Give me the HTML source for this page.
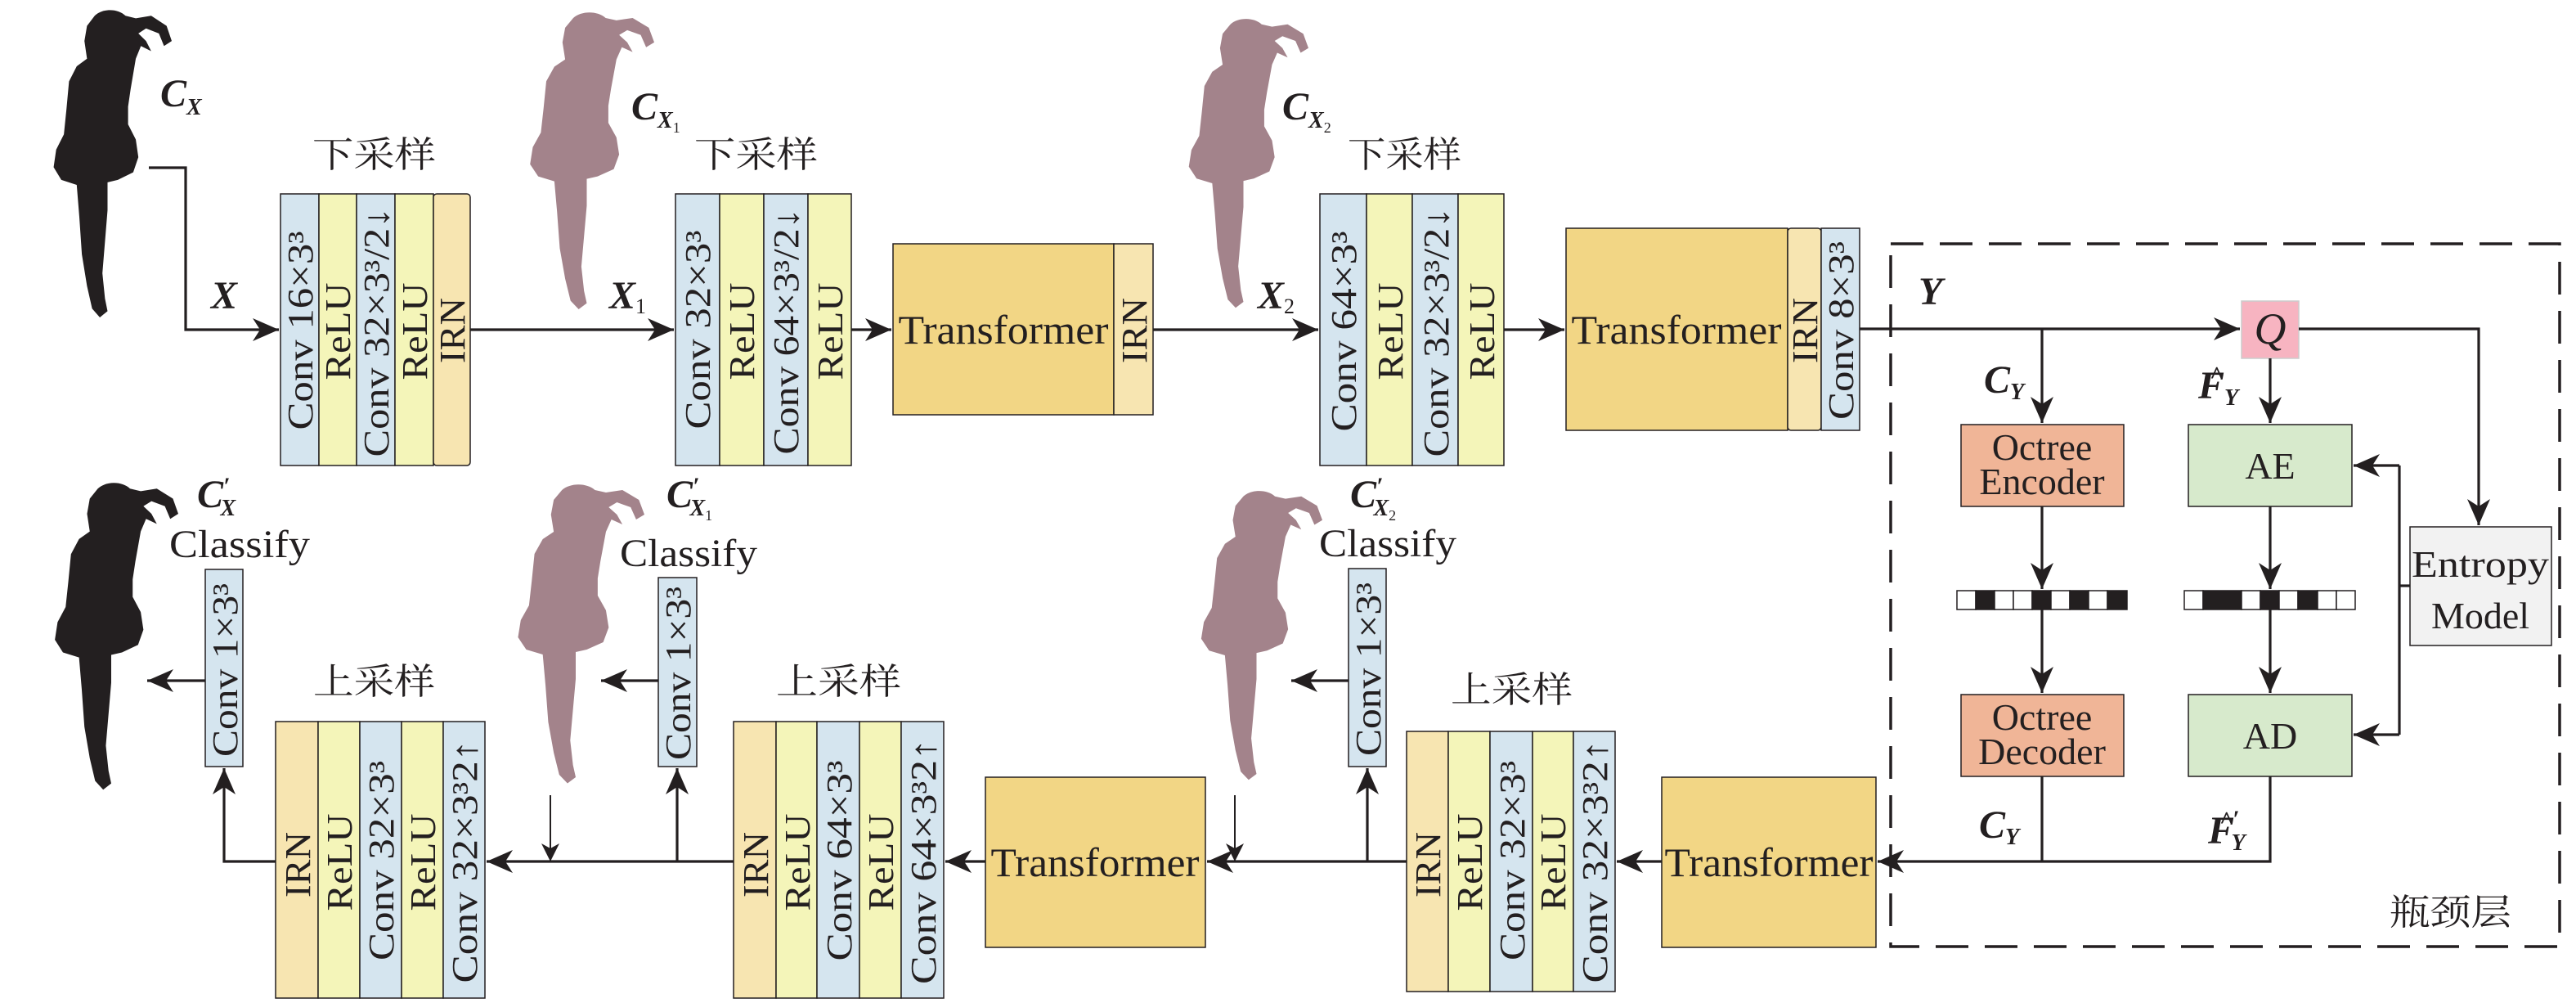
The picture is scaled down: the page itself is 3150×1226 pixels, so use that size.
<!DOCTYPE html>
<html><head><meta charset="utf-8"><style>
html,body{margin:0;padding:0;background:#fff;}
svg{display:block;}
text{font-family:"Liberation Serif","Times New Roman","Noto Serif CJK SC",serif;fill:#231f20;}
.cj{font-family:"Liberation Serif","Noto Serif CJK SC","Noto Sans CJK SC",serif;}
.m{font-style:italic;font-weight:bold;}
</style></head><body>
<svg width="3150" height="1226" viewBox="0 0 3150 1226" xmlns="http://www.w3.org/2000/svg" font-family="Liberation Serif, serif">
<defs>
<marker id="a" markerUnits="userSpaceOnUse" markerWidth="34" markerHeight="28" refX="32" refY="14" orient="auto">
<path d="M0,0 L32,14 L0,28 L9,14 Z" fill="#231f20"/></marker>
<marker id="s" markerUnits="userSpaceOnUse" markerWidth="24" markerHeight="22" refX="22" refY="11" orient="auto">
<path d="M0,0 L22,11 L0,22 L6,11 Z" fill="#231f20"/></marker>
<path id="sil" d="M40,6 C46,0 58,0 64,6 L72,8 L84,6 L96,14 L100,26 L94,30 L90,20 L80,16 L74,20 L80,26 L84,34 L76,30 L72,40 L70,52 L68,64 L66,78 L66,92 L72,104 L74,118 L70,130 L58,136 L50,138 L50,160 L48,185 L46,210 L48,230 L50,240 L44,245 L38,238 L34,220 L30,195 L28,165 L26,140 L14,136 L8,126 L10,112 L16,100 L18,80 L20,58 L26,46 L34,40 L32,26 L34,14 Z"/>
</defs>
<g stroke="none">
<use href="#sil" fill="#231f20" transform="translate(53,10) scale(1.57,1.543)"/>
<use href="#sil" fill="#a3838b" transform="translate(635,13) scale(1.65,1.49)"/>
<use href="#sil" fill="#a3838b" transform="translate(1441,21) scale(1.59,1.45)"/>
<use href="#sil" fill="#231f20" transform="translate(54,588) scale(1.64,1.54)"/>
<use href="#sil" fill="#a3838b" transform="translate(620,590) scale(1.68,1.50)"/>
<use href="#sil" fill="#a3838b" transform="translate(1456,598) scale(1.61,1.45)"/>
</g>

<g stroke="#231f20" stroke-width="1.5">
<rect x="343" y="237" width="47" height="332" fill="#d5e5ef"/>
<rect x="390" y="237" width="46" height="332" fill="#f4f5b9"/>
<rect x="436" y="237" width="47" height="332" fill="#d5e5ef"/>
<rect x="483" y="237" width="47" height="332" fill="#f4f5b9"/>
<rect x="530" y="237" width="45" height="332" rx="4" fill="#f7e5b1"/>
<rect x="826" y="237" width="54" height="332" fill="#d5e5ef"/>
<rect x="880" y="237" width="54" height="332" fill="#f4f5b9"/>
<rect x="934" y="237" width="54" height="332" fill="#d5e5ef"/>
<rect x="988" y="237" width="53" height="332" fill="#f4f5b9"/>
<rect x="1092" y="298" width="270" height="209" fill="#f2d685"/>
<rect x="1362" y="298" width="48" height="209" fill="#f7e5b1"/>
<rect x="1614" y="237" width="57" height="332" fill="#d5e5ef"/>
<rect x="1671" y="237" width="56" height="332" fill="#f4f5b9"/>
<rect x="1727" y="237" width="56" height="332" fill="#d5e5ef"/>
<rect x="1783" y="237" width="56" height="332" fill="#f4f5b9"/>
<rect x="1915" y="279" width="271" height="247" fill="#f2d685"/>
<rect x="2186" y="279" width="41" height="247" rx="4" fill="#f7e5b1"/>
<rect x="2227" y="279" width="47" height="247" fill="#d5e5ef"/>
<rect x="251" y="696" width="46" height="241" fill="#d5e5ef"/>
<rect x="805" y="706" width="47" height="231" fill="#d5e5ef"/>
<rect x="1649" y="695" width="46" height="242" fill="#d5e5ef"/>
<rect x="337" y="882" width="52" height="338" fill="#f7e5b1"/>
<rect x="389" y="882" width="51" height="338" fill="#f4f5b9"/>
<rect x="440" y="882" width="51" height="338" fill="#d5e5ef"/>
<rect x="491" y="882" width="51" height="338" fill="#f4f5b9"/>
<rect x="542" y="882" width="51" height="338" fill="#d5e5ef"/>
<rect x="897" y="882" width="52" height="338" fill="#f7e5b1"/>
<rect x="949" y="882" width="50" height="338" fill="#f4f5b9"/>
<rect x="999" y="882" width="52" height="338" fill="#d5e5ef"/>
<rect x="1051" y="882" width="51" height="338" fill="#f4f5b9"/>
<rect x="1102" y="882" width="52" height="338" fill="#d5e5ef"/>
<rect x="1205" y="950" width="269" height="208" fill="#f2d685"/>
<rect x="1720" y="894" width="51" height="318" fill="#f7e5b1"/>
<rect x="1771" y="894" width="51" height="318" fill="#f4f5b9"/>
<rect x="1822" y="894" width="52" height="318" fill="#d5e5ef"/>
<rect x="1874" y="894" width="50" height="318" fill="#f4f5b9"/>
<rect x="1924" y="894" width="51" height="318" fill="#d5e5ef"/>
<rect x="2032" y="950" width="262" height="208" fill="#f2d685"/>
<rect x="2741" y="368" width="70" height="70" fill="#f7b4c1" stroke="#ccc"/>
<rect x="2398" y="519" width="199" height="100" fill="#f0b597"/>
<rect x="2676" y="519" width="200" height="100" fill="#d7eacc"/>
<rect x="2398" y="849" width="199" height="100" fill="#f0b597"/>
<rect x="2676" y="849" width="200" height="100" fill="#d7eacc"/>
<rect x="2947" y="644" width="173" height="145" fill="#f2f2f2"/>
</g>
<g stroke="#231f20" stroke-width="1.5">
<rect x="2393" y="722" width="23" height="23" fill="#fff"/><rect x="2416" y="722" width="23" height="23" fill="#231f20"/><rect x="2439" y="722" width="23" height="23" fill="#fff"/><rect x="2462" y="722" width="23" height="23" fill="#fff"/><rect x="2485" y="722" width="23" height="23" fill="#231f20"/><rect x="2508" y="722" width="23" height="23" fill="#fff"/><rect x="2531" y="722" width="23" height="23" fill="#231f20"/><rect x="2554" y="722" width="23" height="23" fill="#fff"/><rect x="2577" y="722" width="24" height="23" fill="#231f20"/>
<rect x="2671" y="722" width="23" height="23" fill="#fff"/><rect x="2694" y="722" width="47" height="23" fill="#231f20"/><rect x="2741" y="722" width="23" height="23" fill="#fff"/><rect x="2764" y="722" width="23" height="23" fill="#231f20"/><rect x="2787" y="722" width="23" height="23" fill="#fff"/><rect x="2810" y="722" width="24" height="23" fill="#231f20"/><rect x="2834" y="722" width="23" height="23" fill="#fff"/><rect x="2857" y="722" width="23" height="23" fill="#fff"/>
</g>
<rect x="2312" y="298" width="818" height="859" fill="none" stroke="#231f20" stroke-width="3.5" stroke-dasharray="40 20"/>

<g stroke="#231f20" stroke-width="3.2" fill="none">
<polyline points="182,205 227,205 227,403 341,403" marker-end="url(#a)"/>
<line x1="575" y1="403" x2="824" y2="403" marker-end="url(#a)"/>
<line x1="1041" y1="403" x2="1090" y2="403" marker-end="url(#a)"/>
<line x1="1410" y1="403" x2="1612" y2="403" marker-end="url(#a)"/>
<line x1="1839" y1="403" x2="1913" y2="403" marker-end="url(#a)"/>
<line x1="2274" y1="402" x2="2739" y2="402" marker-end="url(#a)"/>
<line x1="2497" y1="402" x2="2497" y2="517" marker-end="url(#a)"/>
<line x1="2776" y1="438" x2="2776" y2="517" marker-end="url(#a)"/>
<polyline points="2811,402 3031,402 3031,642" marker-end="url(#a)"/>
<line x1="2497" y1="619" x2="2497" y2="720" marker-end="url(#a)"/>
<line x1="2497" y1="745" x2="2497" y2="847" marker-end="url(#a)"/>
<line x1="2776" y1="619" x2="2776" y2="720" marker-end="url(#a)"/>
<line x1="2776" y1="745" x2="2776" y2="847" marker-end="url(#a)"/>
<polyline points="2947,716 2934,716"/>
<polyline points="2934,569 2934,898"/>
<line x1="2934" y1="569" x2="2878" y2="569" marker-end="url(#a)"/>
<line x1="2934" y1="898" x2="2878" y2="898" marker-end="url(#a)"/>
<line x1="2497" y1="949" x2="2497" y2="1053"/>
<polyline points="2776,949 2776,1053 2296,1053" marker-end="url(#a)"/>
<line x1="2032" y1="1053" x2="1977" y2="1053" marker-end="url(#a)"/>
<line x1="1720" y1="1053" x2="1476" y2="1053" marker-end="url(#a)"/>
<line x1="1672" y1="1053" x2="1672" y2="939" marker-end="url(#a)"/>
<line x1="1649" y1="832" x2="1579" y2="832" marker-end="url(#a)"/>
<line x1="1205" y1="1053" x2="1156" y2="1053" marker-end="url(#a)"/>
<line x1="897" y1="1053" x2="595" y2="1053" marker-end="url(#a)"/>
<line x1="828" y1="1053" x2="828" y2="939" marker-end="url(#a)"/>
<line x1="805" y1="832" x2="735" y2="832" marker-end="url(#a)"/>
<polyline points="337,1053 274,1053 274,939" marker-end="url(#a)"/>
<line x1="251" y1="832" x2="180" y2="832" marker-end="url(#a)"/>
</g>
<g stroke="#231f20" stroke-width="2" fill="none">
<line x1="1510" y1="972" x2="1510" y2="1053" marker-end="url(#s)"/>
<line x1="673" y1="972" x2="673" y2="1053" marker-end="url(#s)"/>
</g>

<g font-size="44" text-anchor="middle">
<text transform="translate(382,404) rotate(-90)" textLength="243" lengthAdjust="spacingAndGlyphs">Conv 16×3³</text>
<text transform="translate(428,405) rotate(-90)" textLength="119" lengthAdjust="spacingAndGlyphs">ReLU</text>
<text transform="translate(475,406) rotate(-90)" textLength="305" lengthAdjust="spacingAndGlyphs">Conv 32×3³/2↓</text>
<text transform="translate(522,405) rotate(-90)" textLength="119" lengthAdjust="spacingAndGlyphs">ReLU</text>
<text transform="translate(568,404) rotate(-90)" textLength="80" lengthAdjust="spacingAndGlyphs">IRN</text>
<text transform="translate(868,403) rotate(-90)" textLength="243" lengthAdjust="spacingAndGlyphs">Conv 32×3³</text>
<text transform="translate(922,405) rotate(-90)" textLength="119" lengthAdjust="spacingAndGlyphs">ReLU</text>
<text transform="translate(976,405) rotate(-90)" textLength="301" lengthAdjust="spacingAndGlyphs">Conv 64×3³/2↓</text>
<text transform="translate(1030,405) rotate(-90)" textLength="119" lengthAdjust="spacingAndGlyphs">ReLU</text>
<text transform="translate(1402,404) rotate(-90)" textLength="80" lengthAdjust="spacingAndGlyphs">IRN</text>
<text transform="translate(1658,405) rotate(-90)" textLength="245" lengthAdjust="spacingAndGlyphs">Conv 64×3³</text>
<text transform="translate(1715,405) rotate(-90)" textLength="119" lengthAdjust="spacingAndGlyphs">ReLU</text>
<text transform="translate(1771,406) rotate(-90)" textLength="305" lengthAdjust="spacingAndGlyphs">Conv 32×3³/2↓</text>
<text transform="translate(1827,405) rotate(-90)" textLength="119" lengthAdjust="spacingAndGlyphs">ReLU</text>
<text transform="translate(2222,404) rotate(-90)" textLength="80" lengthAdjust="spacingAndGlyphs">IRN</text>
<text transform="translate(2266,404) rotate(-90)" textLength="218" lengthAdjust="spacingAndGlyphs">Conv 8×3³</text>
<text transform="translate(290,819) rotate(-90)" textLength="212" lengthAdjust="spacingAndGlyphs">Conv 1×3³</text>
<text transform="translate(844,823) rotate(-90)" textLength="212" lengthAdjust="spacingAndGlyphs">Conv 1×3³</text>
<text transform="translate(1688,818) rotate(-90)" textLength="212" lengthAdjust="spacingAndGlyphs">Conv 1×3³</text>
<text transform="translate(379,1057) rotate(-90)" textLength="80" lengthAdjust="spacingAndGlyphs">IRN</text>
<text transform="translate(430,1054) rotate(-90)" textLength="119" lengthAdjust="spacingAndGlyphs">ReLU</text>
<text transform="translate(481,1052) rotate(-90)" textLength="244" lengthAdjust="spacingAndGlyphs">Conv 32×3³</text>
<text transform="translate(532,1054) rotate(-90)" textLength="119" lengthAdjust="spacingAndGlyphs">ReLU</text>
<text transform="translate(583,1053) rotate(-90)" textLength="297" lengthAdjust="spacingAndGlyphs">Conv 32×3³2↑</text>
<text transform="translate(939,1057) rotate(-90)" textLength="80" lengthAdjust="spacingAndGlyphs">IRN</text>
<text transform="translate(990,1054) rotate(-90)" textLength="119" lengthAdjust="spacingAndGlyphs">ReLU</text>
<text transform="translate(1041,1052) rotate(-90)" textLength="245" lengthAdjust="spacingAndGlyphs">Conv 64×3³</text>
<text transform="translate(1092,1054) rotate(-90)" textLength="119" lengthAdjust="spacingAndGlyphs">ReLU</text>
<text transform="translate(1144,1053) rotate(-90)" textLength="300" lengthAdjust="spacingAndGlyphs">Conv 64×3³2↑</text>
<text transform="translate(1761,1057) rotate(-90)" textLength="80" lengthAdjust="spacingAndGlyphs">IRN</text>
<text transform="translate(1812,1054) rotate(-90)" textLength="119" lengthAdjust="spacingAndGlyphs">ReLU</text>
<text transform="translate(1864,1052) rotate(-90)" textLength="244" lengthAdjust="spacingAndGlyphs">Conv 32×3³</text>
<text transform="translate(1914,1054) rotate(-90)" textLength="119" lengthAdjust="spacingAndGlyphs">ReLU</text>
<text transform="translate(1965,1053) rotate(-90)" textLength="297" lengthAdjust="spacingAndGlyphs">Conv 32×3³2↑</text>
</g>

<g font-size="50" text-anchor="middle">
<text x="1227" y="420" textLength="257" lengthAdjust="spacingAndGlyphs">Transformer</text>
<text x="2050" y="420" textLength="257" lengthAdjust="spacingAndGlyphs">Transformer</text>
<text x="1339" y="1071" textLength="255" lengthAdjust="spacingAndGlyphs">Transformer</text>
<text x="2163" y="1071" textLength="255" lengthAdjust="spacingAndGlyphs">Transformer</text>
</g>

<g class="cj" font-size="44">
<text x="382" y="204" textLength="151" lengthAdjust="spacingAndGlyphs">下采样</text>
<text x="849" y="204" textLength="151" lengthAdjust="spacingAndGlyphs">下采样</text>
<text x="1648" y="204" textLength="139" lengthAdjust="spacingAndGlyphs">下采样</text>
<text x="383" y="848" textLength="149" lengthAdjust="spacingAndGlyphs">上采样</text>
<text x="949" y="848" textLength="153" lengthAdjust="spacingAndGlyphs">上采样</text>
<text x="1774" y="858" textLength="149" lengthAdjust="spacingAndGlyphs">上采样</text>
<text x="2922" y="1130" textLength="149" lengthAdjust="spacingAndGlyphs">瓶颈层</text>
</g>

<g font-size="48">
<text x="207" y="681" textLength="172" lengthAdjust="spacingAndGlyphs">Classify</text>
<text x="758" y="692" textLength="168" lengthAdjust="spacingAndGlyphs">Classify</text>
<text x="1613" y="680" textLength="168" lengthAdjust="spacingAndGlyphs">Classify</text>
</g>

<g font-size="46" text-anchor="middle">
<text x="2497" y="562">Octree</text>
<text x="2497" y="604">Encoder</text>
<text x="2497" y="892">Octree</text>
<text x="2497" y="934">Decoder</text>
<text x="2776" y="585">AE</text>
<text x="2776" y="915">AD</text>
<text x="3033" y="705" textLength="168" lengthAdjust="spacingAndGlyphs">Entropy</text>
<text x="3033" y="768">Model</text>
<text x="2776" y="420" font-style="italic" font-size="54">Q</text>
</g>

<g class="m" font-size="48">
<text x="196" y="130">C<tspan font-size="28" dy="10">X</tspan></text>
<text x="772" y="146">C<tspan font-size="28" dy="10">X</tspan><tspan font-size="18" font-weight="normal" font-style="normal" dy="6">1</tspan></text>
<text x="1568" y="146">C<tspan font-size="28" dy="10">X</tspan><tspan font-size="18" font-weight="normal" font-style="normal" dy="6">2</tspan></text>
<text x="258" y="377">X</text>
<text x="745" y="377">X<tspan font-size="26" font-weight="normal" font-style="normal" dy="6">1</tspan></text>
<text x="1538" y="377">X<tspan font-size="26" font-weight="normal" font-style="normal" dy="6">2</tspan></text>
<text x="2346" y="372">Y</text>
<text x="2426" y="480">C<tspan font-size="28" dy="8">Y</tspan></text>
<text x="2688" y="487">F<tspan font-size="28" dy="8">Y</tspan></text>
<text x="2702" y="468" font-size="30" font-style="normal">^</text>
<text x="2420" y="1024">C<tspan font-size="28" dy="8">Y</tspan></text>
<text x="2700" y="1031">F<tspan dx="-2" dy="-20" font-size="30">′</tspan><tspan font-size="28" dx="-10" dy="28">Y</tspan></text>
<text x="2714" y="1012" font-size="30" font-style="normal">^</text>
<text x="241" y="620">C<tspan dy="-16" font-size="30">′</tspan><tspan font-size="28" dx="-12" dy="26">X</tspan></text>
<text x="815" y="620">C<tspan dy="-16" font-size="30">′</tspan><tspan font-size="28" dx="-12" dy="26">X</tspan><tspan font-size="18" font-weight="normal" font-style="normal" dy="6">1</tspan></text>
<text x="1651" y="620">C<tspan dy="-16" font-size="30">′</tspan><tspan font-size="28" dx="-12" dy="26">X</tspan><tspan font-size="18" font-weight="normal" font-style="normal" dy="6">2</tspan></text>
</g>
</svg>
</body></html>
